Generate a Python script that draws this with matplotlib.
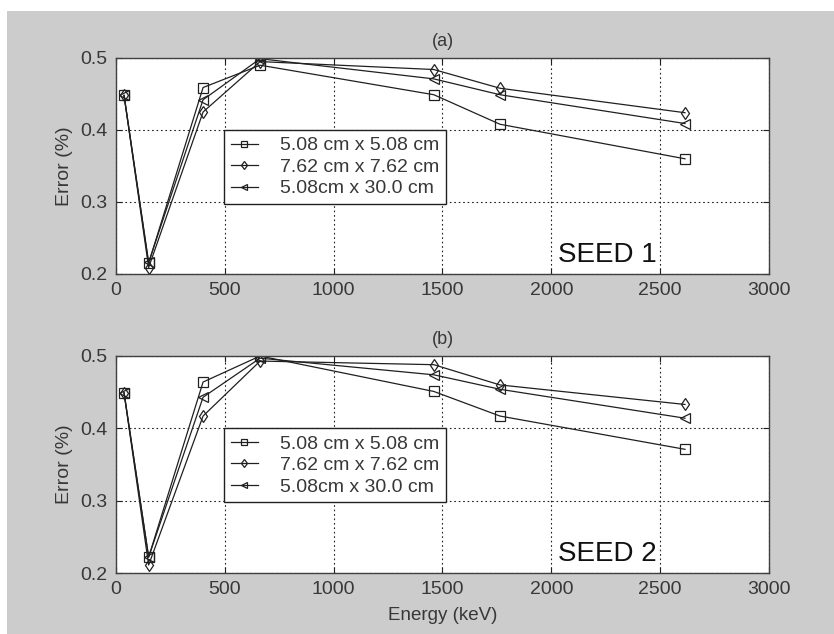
import matplotlib
matplotlib.use("Agg")
import matplotlib.pyplot as plt
from matplotlib.patches import Rectangle

# Gamma-line energies (keV)
energy_kev = [37, 150, 400, 662, 1460, 1764, 2614]

series_labels = ["5.08 cm x 5.08 cm", "7.62 cm x 7.62 cm", "5.08cm x 30.0 cm"]
series_markers = ["s", "d", "<"]

# Relative error (%) for seed 1
seed1_small = [0.448, 0.215, 0.459, 0.490, 0.449, 0.408, 0.360]
seed1_large = [0.448, 0.209, 0.425, 0.495, 0.484, 0.458, 0.424]
seed1_long = [0.448, 0.216, 0.442, 0.499, 0.471, 0.449, 0.409]

# Relative error (%) for seed 2
seed2_small = [0.449, 0.222, 0.464, 0.500, 0.451, 0.417, 0.371]
seed2_large = [0.449, 0.211, 0.417, 0.493, 0.488, 0.460, 0.433]
seed2_long = [0.449, 0.222, 0.443, 0.497, 0.474, 0.454, 0.414]

x_ticks = [0, 500, 1000, 1500, 2000, 2500, 3000]
y_ticks = [0.2, 0.3, 0.4, 0.5]

plt.rcParams["font.family"] = ["Liberation Sans", "DejaVu Sans"]
text_color = "#383838"
line_color = "#202020"

fig = plt.figure(figsize=(8.34, 6.34), dpi=100, facecolor="white")
fig.patches.append(Rectangle((7 / 834, 0), 1 - 7 / 834, 1 - 11 / 634,
                             transform=fig.transFigure, facecolor="#cccccc",
                             edgecolor="none", zorder=-10))

ax_a = fig.add_axes([116 / 834, (634 - 274) / 634, 653 / 834, 216 / 634])
ax_b = fig.add_axes([116 / 834, (634 - 573) / 634, 653 / 834, 217 / 634])

panels = [
    (ax_a, [seed1_small, seed1_large, seed1_long], "(a)", "SEED 1"),
    (ax_b, [seed2_small, seed2_large, seed2_long], "(b)", "SEED 2"),
]

for ax, series, title, seed_text in panels:
    ax.set_facecolor("white")
    for values, marker, label in zip(series, series_markers, series_labels):
        ax.plot(energy_kev, values, color=line_color, linewidth=0.9,
                marker=marker, markersize=7 if marker != "d" else 6.5,
                markerfacecolor="none", markeredgecolor=line_color,
                markeredgewidth=0.9, label=label)
    ax.set_xlim(0, 3000)
    ax.set_ylim(0.2, 0.5)
    ax.set_xticks(x_ticks)
    ax.set_yticks(y_ticks)
    ax.set_yticklabels(["0.2", "0.3", "0.4", "0.5"])
    ax.grid(True, color="#222222", linestyle=(0, (1.5, 2.5)), linewidth=0.8)
    ax.set_axisbelow(True)
    ax.tick_params(direction="in", length=4, width=0.8, colors=line_color,
                   labelcolor=text_color, labelsize=14, pad=6,
                   top=True, right=True)
    for spine in ax.spines.values():
        spine.set_color("#404040")
        spine.set_linewidth(1.0)
    ax.set_ylabel("Error (%)", fontsize=14, color=text_color, labelpad=5)
    ax.set_title(title, fontsize=13, color=text_color, pad=9)
    ax.text(0.677, 0.055, seed_text, transform=ax.transAxes, fontsize=20,
            color="#111111", ha="left", va="baseline")
    leg = ax.legend(loc="upper left", bbox_to_anchor=(0.165, 0.667),
                    fontsize=14, frameon=True, fancybox=False,
                    edgecolor="#202020", framealpha=1, borderpad=0.35,
                    labelspacing=0.2, handlelength=1.4, handletextpad=1.15,
                    borderaxespad=0, markerscale=0.7)
    leg.get_frame().set_linewidth(1.0)
    for txt in leg.get_texts():
        txt.set_color(text_color)

ax_b.set_xlabel("Energy (keV)", fontsize=13.5, color=text_color, labelpad=6)

fig.savefig("out.png", dpi=100, facecolor=fig.get_facecolor())
